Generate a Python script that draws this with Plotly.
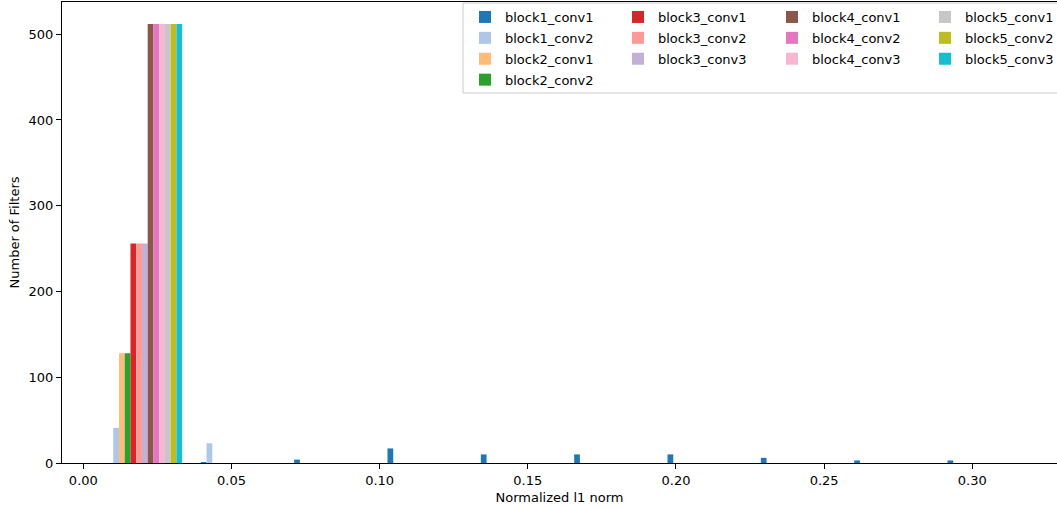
import numpy as np
import plotly.graph_objects as go

# Layer names and colours
layers = ["block1_conv1", "block1_conv2", "block2_conv1", "block2_conv2",
          "block3_conv1", "block3_conv2", "block3_conv3",
          "block4_conv1", "block4_conv2", "block4_conv3",
          "block5_conv1", "block5_conv2", "block5_conv3"]
colors = ["#1f77b4", "#aec7e8", "#ffbb78", "#2ca02c",
          "#d62728", "#ff9896", "#c5b0d5",
          "#8c564b", "#e377c2", "#f7b6d2",
          "#c7c7c7", "#bcbd22", "#17becf"]

# Histogram bin range (normalized l1 norm), 10 equal bins
bin_lo = 0.005
bin_hi = 0.320
n_bins = 10

# Counts per bin for each layer
block1_conv1 = [0, 1, 4, 17, 10, 10, 10, 6, 3, 3]
block1_conv2 = [41, 23, 0, 0, 0, 0, 0, 0, 0, 0]
block2_conv1 = [128, 0, 0, 0, 0, 0, 0, 0, 0, 0]
block2_conv2 = [128, 0, 0, 0, 0, 0, 0, 0, 0, 0]
block3_conv1 = [256, 0, 0, 0, 0, 0, 0, 0, 0, 0]
block3_conv2 = [256, 0, 0, 0, 0, 0, 0, 0, 0, 0]
block3_conv3 = [256, 0, 0, 0, 0, 0, 0, 0, 0, 0]
block4_conv1 = [512, 0, 0, 0, 0, 0, 0, 0, 0, 0]
block4_conv2 = [512, 0, 0, 0, 0, 0, 0, 0, 0, 0]
block4_conv3 = [512, 0, 0, 0, 0, 0, 0, 0, 0, 0]
block5_conv1 = [512, 0, 0, 0, 0, 0, 0, 0, 0, 0]
block5_conv2 = [512, 0, 0, 0, 0, 0, 0, 0, 0, 0]
block5_conv3 = [512, 0, 0, 0, 0, 0, 0, 0, 0, 0]

counts = [block1_conv1, block1_conv2, block2_conv1, block2_conv2,
          block3_conv1, block3_conv2, block3_conv3,
          block4_conv1, block4_conv2, block4_conv3,
          block5_conv1, block5_conv2, block5_conv3]

x_ticks = [0.00, 0.05, 0.10, 0.15, 0.20, 0.25, 0.30]
y_ticks = [0, 100, 200, 300, 400, 500]

edges = np.linspace(bin_lo, bin_hi, n_bins + 1)
centers = (edges[:-1] + edges[1:]) / 2

W, H = 1057, 509
ML, MR, MT, MB = 62, 0, 2, 46
PW, PH = W - ML - MR, H - MT - MB

# legend columns (like matplotlib ncol=4): one plotly legend per column
legend_of = {}
for name in layers:
    blk = name.split("_")[0]
    legend_of[name] = {"block1": "legend", "block2": "legend",
                       "block3": "legend2", "block4": "legend3",
                       "block5": "legend4"}[blk]
col_text_x = [505, 658, 812, 965]  # pixel where legend text starts
TEXT_OFF = 40

FONT = "DejaVu Sans"
fig = go.Figure()
for name, c, y in zip(layers, colors, counts):
    fig.add_trace(go.Bar(
        x=centers, y=y, name=name,
        marker=dict(color=c, line=dict(width=0)),
        legend=legend_of[name], legendgroup=name,
    ))

def px_to_paper_x(px):
    return (px - ML) / PW

def py_to_paper_y(py):
    return 1 - (py - MT) / PH

legend_common = dict(
    orientation="v", yanchor="top", xanchor="left",
    bgcolor="rgba(0,0,0,0)", borderwidth=0,
    font=dict(family=FONT, size=13, color="black"),
    tracegroupgap=1, traceorder="grouped",
)
leg_layout = {}
for i, key in enumerate(["legend", "legend2", "legend3", "legend4"]):
    leg_layout[key] = dict(legend_common,
                           x=px_to_paper_x(col_text_x[i] - TEXT_OFF),
                           y=py_to_paper_y(2))

fig.update_layout(
    width=W, height=H,
    margin=dict(l=ML, r=MR, t=MT, b=MB, autoexpand=False),
    paper_bgcolor="white", plot_bgcolor="white",
    barmode="group", bargap=0.2, bargroupgap=0,
    font=dict(family=FONT, size=13, color="black"),
    showlegend=True,
    **leg_layout,
)
# legend frame
fig.add_shape(type="rect", xref="paper", yref="paper",
              x0=px_to_paper_x(463), x1=px_to_paper_x(1062),
              y0=py_to_paper_y(93), y1=py_to_paper_y(3),
              line=dict(color="#cccccc", width=1),
              fillcolor="rgba(255,255,255,0.8)", layer="above")

fig.update_xaxes(
    range=[-0.0072, 0.3286], automargin=False,
    tickvals=x_ticks, ticktext=[f"{v:.2f}" for v in x_ticks],
    ticks="outside", ticklen=5, tickcolor="black",
    showline=True, linecolor="black", linewidth=1, mirror=True,
    showgrid=False, zeroline=False,
    title=dict(text="Normalized l1 norm", font=dict(family=FONT, size=13), standoff=6),
)
fig.update_yaxes(
    range=[0, 537.6], automargin=False,
    tickvals=y_ticks,
    ticks="outside", ticklen=5, tickcolor="black",
    showline=True, linecolor="black", linewidth=1, mirror=False,
    showgrid=False, zeroline=False,
    title=dict(text="Number of Filters", font=dict(family=FONT, size=13), standoff=6),
)

fig.write_html("out.html", config={"displayModeBar": False},
               post_script="document.body.style.margin='0';")
